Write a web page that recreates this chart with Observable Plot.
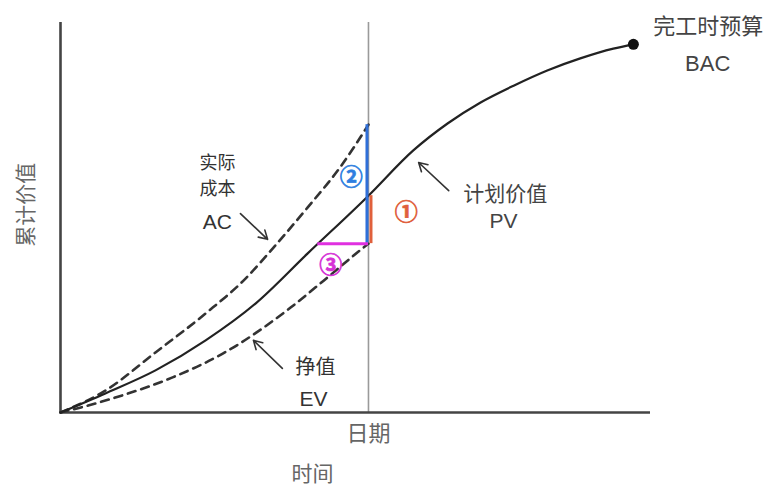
<!DOCTYPE html>
<html><head><meta charset="utf-8">
<script src="https://cdn.jsdelivr.net/npm/d3@7"></script>
<script src="https://cdn.jsdelivr.net/npm/@observablehq/plot@0.6"></script>
<style>body{margin:0;background:#fff;overflow:hidden}</style>
</head><body><div id="chart"></div>
<script>
// Planned value (PV) S-curve
const pvTime  = [0, 7.6, 16.1, 24.6, 33.1, 41.9, 52.2, 59.8, 65.6, 71.2, 76.8, 82.5, 88.1, 93.7, 97.1];
const pvValue = [0, 4.9, 10.8, 18.5, 28.0, 40.8, 55.6, 67.2, 74.1, 79.5, 83.8, 87.7, 90.8, 93.3, 94.4];
// Actual cost (AC) up to the status date
const acTime  = [0, 7.6, 16.1, 24.6, 31.4, 36.1, 41.9, 47.5, 52.2];
const acValue = [0, 5.6, 15.4, 25.4, 34.4, 42.3, 52.6, 63.1, 73.8];
// Earned value (EV) up to the status date
const evTime  = [0, 4.7, 10.5, 19.0, 27.5, 39.0, 44.6, 50.3, 52.2];
const evValue = [0, 1.8, 4.4, 9.0, 15.1, 26.9, 33.8, 41.0, 43.3];
const statusDate = 52.2;     // 日期
const evMatchTime = 43.6;    // time at which PV equals current EV

const xLabel = "时间";
const yLabel = "累计价值";
const dateLabel = "日期";
const acLabel = ["实际", "成本", "AC"];
const evLabel = ["挣值", "EV"];
const pvLabel = ["计划价值", "PV"];
const bacLabel = ["完工时预算", "BAC"];
const markers = ["①", "②", "③"];

const pv = pvTime.map((t, i) => ({t, v: pvValue[i]}));
const ac = acTime.map((t, i) => ({t, v: acValue[i]}));
const ev = evTime.map((t, i) => ({t, v: evValue[i]}));
const pvAtDate = pvValue[pvTime.indexOf(statusDate)];
const acAtDate = acValue[acValue.length - 1];
const evAtDate = evValue[evValue.length - 1];
const bac = pv[pv.length - 1];

const cjk = "'Noto Sans CJK SC', sans-serif";
const lat = "'Liberation Sans', Arial, sans-serif";

const marker = (m, x, y, c) => Plot.text([m], {x, y, text: d => d, fill: c, stroke: c, strokeWidth: 0.7, fontSize: 23, fontWeight: "bold", fontFamily: cjk});
const label = (s, x, y, size, fam, fill = "#333") => Plot.text([s], {x, y, text: d => d, fontSize: size, fill, fontFamily: fam});

const chart = Plot.plot({
  width: 776, height: 487,
  marginLeft: 60, marginRight: 126, marginTop: 22, marginBottom: 75,
  x: {domain: [0, 100], axis: null},
  y: {domain: [0, 100], axis: null},
  marks: [
    Plot.ruleX([statusDate], {y1: 0, y2: 100, stroke: "#9a9a9a", strokeWidth: 1.6}),
    Plot.ruleX([0], {y1: 0, y2: 100, stroke: "#444", strokeWidth: 2.6}),
    Plot.ruleY([0], {x1: 0, x2: 100, stroke: "#444", strokeWidth: 2.6}),
    Plot.line(ac, {x: "t", y: "v", curve: "monotone-x", stroke: "#333", strokeWidth: 2.6, strokeDasharray: "8,6"}),
    Plot.line(ev, {x: "t", y: "v", curve: "monotone-x", stroke: "#333", strokeWidth: 2.6, strokeDasharray: "8,6"}),
    Plot.line(pv, {x: "t", y: "v", curve: "monotone-x", stroke: "#222", strokeWidth: 2.2}),
    Plot.dot([bac], {x: "t", y: "v", r: 5.5, fill: "#111"}),
    // variance indicators
    Plot.ruleX([statusDate], {y1: evAtDate, y2: acAtDate, stroke: "#2f6fd8", strokeWidth: 3, dx: -1.5}),
    Plot.ruleX([statusDate], {y1: evAtDate, y2: pvAtDate, stroke: "#e0603c", strokeWidth: 3, dx: 2.5}),
    Plot.ruleY([evAtDate], {x1: evMatchTime, x2: statusDate, stroke: "#e030e0", strokeWidth: 3}),
    marker(markers[0], 58.6, 51.3, "#e0603c"),
    marker(markers[1], 49.3, 60.3, "#2f7fe0"),
    marker(markers[2], 45.8, 37.7, "#d632d6"),
    // annotation arrows
    Plot.arrow([{x1: 30.5, y1: 51.0, x2: 35.1, y2: 44.4}], {x1: "x1", y1: "y1", x2: "x2", y2: "y2", stroke: "#333", strokeWidth: 1.6, headLength: 9}),
    Plot.arrow([{x1: 37.6, y1: 11.3, x2: 32.7, y2: 18.5}], {x1: "x1", y1: "y1", x2: "x2", y2: "y2", stroke: "#333", strokeWidth: 1.6, headLength: 9}),
    Plot.arrow([{x1: 65.8, y1: 56.9, x2: 60.7, y2: 64.1}], {x1: "x1", y1: "y1", x2: "x2", y2: "y2", stroke: "#333", strokeWidth: 1.6, headLength: 9}),
    // labels
    label(acLabel[0], 26.6, 63.8, 18, cjk),
    label(acLabel[1], 26.6, 57.2, 18, cjk),
    label(acLabel[2], 26.6, 48.7, 21, lat),
    label(evLabel[0], 43.2, 11.5, 20, cjk),
    label(evLabel[1], 42.9, 3.5, 21, lat),
    label(pvLabel[0], 75.4, 55.9, 21, cjk, "#444"),
    label(pvLabel[1], 75.1, 49.0, 21, lat, "#444"),
    label(bacLabel[0], 109.8, 98.9, 22, cjk, "#444"),
    label(bacLabel[1], 109.7, 89.3, 22, lat, "#444"),
    // axis texts
    Plot.text([dateLabel], {x: statusDate, y: 0, dy: 21, text: d => d, fontSize: 22, fill: "#666", fontFamily: cjk}),
    Plot.text([xLabel], {x: 42.7, y: 0, dy: 62, text: d => d, fontSize: 21, fill: "#666", fontFamily: cjk}),
    Plot.text([yLabel], {x: 0, y: 53.3, dx: -34, rotate: -90, text: d => d, fontSize: 21, fill: "#666", fontFamily: cjk})
  ]
});
document.getElementById("chart").appendChild(chart);
</script>
</body></html>
